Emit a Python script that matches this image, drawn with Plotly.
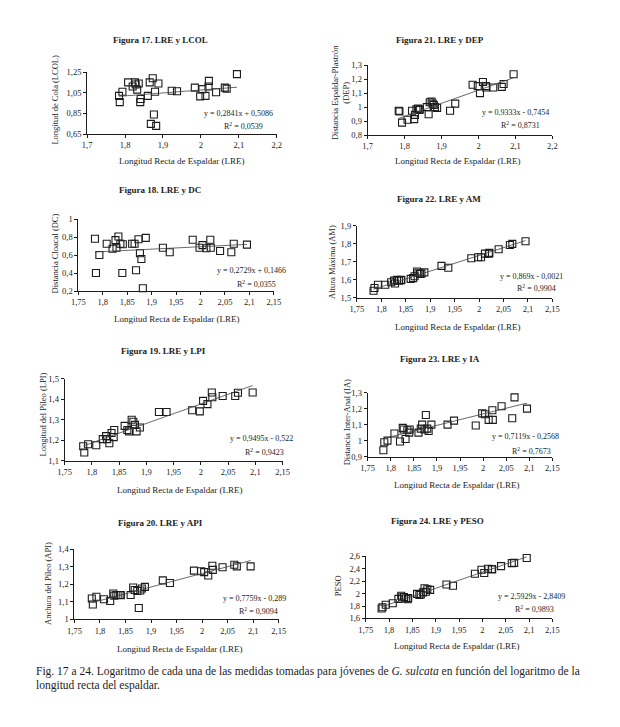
import plotly.graph_objects as go

W, H = 620, 727

# ---- data (log values) ----
lre = [1.784, 1.786, 1.793, 1.808, 1.820, 1.826, 1.828, 1.832, 1.836, 1.840, 1.841,
       1.860, 1.865, 1.868, 1.873, 1.876, 1.879, 1.882, 1.888, 1.923, 1.937, 1.984,
       1.998, 2.004, 2.012, 2.020, 2.021, 2.040, 2.063, 2.068, 2.095]
lcol = [1.02, 0.96, 1.06, 1.15, 1.11, 1.15, 1.13, 1.08, 1.14, 0.96, 0.99,
        1.02, 1.15, 0.75, 1.19, 0.84, 1.06, 0.73, 1.14, 1.07, 1.065, 1.10,
        1.015, 1.085, 1.02, 1.11, 1.165, 1.055, 1.10, 1.09, 1.23]
dep = [0.975, 0.97, 0.89, 0.91, 0.975, 0.915, 0.945, 0.985, 0.99, 0.98, 0.985,
       1.00, 0.95, 1.035, 1.04, 1.025, 1.015, 1.00, 0.995, 0.975, 1.025, 1.16,
       1.15, 1.10, 1.18, 1.15, 1.14, 1.14, 1.145, 1.165, 1.235]
dc = [0.78, 0.40, 0.60, 0.725, 0.67, 0.765, 0.68, 0.805, 0.725, 0.40, 0.72,
      0.725, 0.725, 0.43, 0.775, 0.62, 0.555, 0.23, 0.79, 0.68, 0.63, 0.77,
      0.68, 0.71, 0.675, 0.77, 0.68, 0.645, 0.63, 0.725, 0.715]
am = [1.54, 1.555, 1.573, 1.573, 1.587, 1.596, 1.58, 1.60, 1.595, 1.60, 1.598,
      1.606, 1.61, 1.62, 1.647, 1.64, 1.633, 1.635, 1.642, 1.678, 1.668, 1.72,
      1.726, 1.726, 1.746, 1.746, 1.75, 1.77, 1.794, 1.80, 1.815]
lpi = [1.17, 1.14, 1.18, 1.175, 1.205, 1.22, 1.205, 1.185, 1.235, 1.215, 1.25,
       1.27, 1.25, 1.243, 1.30, 1.29, 1.275, 1.243, 1.262, 1.338, 1.338, 1.346,
       1.341, 1.392, 1.376, 1.433, 1.41, 1.416, 1.416, 1.432, 1.433]
ia = [0.94, 0.99, 1.00, 1.045, 0.995, 1.08, 1.07, 1.01, 1.065, 1.05, 1.07,
      1.05, 1.075, 1.10, 1.07, 1.16, 1.075, 1.06, 1.10, 1.10, 1.125, 1.095,
      1.17, 1.165, 1.13, 1.19, 1.13, 1.215, 1.14, 1.27, 1.20]
api = [1.12, 1.085, 1.13, 1.115, 1.105, 1.148, 1.136, 1.14, 1.14, 1.14, 1.138,
       1.14, 1.182, 1.168, 1.162, 1.065, 1.165, 1.177, 1.186, 1.223, 1.208, 1.279,
       1.275, 1.27, 1.251, 1.307, 1.283, 1.298, 1.312, 1.303, 1.303]
peso = [1.76, 1.78, 1.82, 1.845, 1.915, 1.965, 1.94, 1.945, 1.92, 1.91, 1.93,
        1.995, 1.98, 1.985, 2.02, 2.085, 2.03, 2.07, 2.06, 2.147, 2.126, 2.32,
        2.384, 2.332, 2.40, 2.395, 2.39, 2.442, 2.49, 2.495, 2.574]

slopes = [0.2841, 0.9333, 0.2729, 0.869, 0.9495, 0.7119, 0.7759, 2.5929]
intercepts = [0.5086, -0.7454, 0.1466, -0.0021, -0.522, -0.2568, -0.289, -2.8409]
eq_texts = ["y = 0,2841x + 0,5086", "y = 0,9333x - 0,7454", "y = 0,2729x + 0,1466",
            "y = 0,869x - 0,0021", "y = 0,9495x - 0,522", "y = 0,7119x - 0,2568",
            "y = 0,7759x - 0,289", "y = 2,5929x - 2,8409"]
r2_texts = ["0,0539", "0,8731", "0,0355", "0,9904", "0,9423", "0,7673", "0,9094", "0,9893"]
titles = ["Figura 17. LRE y LCOL", "Figura 21. LRE y DEP", "Figura 18. LRE y DC",
          "Figura 22. LRE y AM", "Figura 19. LRE y LPI", "Figura 23. LRE y IA",
          "Figura 20. LRE y API", "Figura 24. LRE y PESO"]
ytitles = ["Longitud de Cola (LCOL)", "Distancia Espaldar-Plastrón<br>(DEP)",
           "Distancia Cloacal (DC)", "Altura Máxima (AM)", "Longitud del Píleo (LPI)",
           "Distancia Inter-Anal (IA)", "Anchura del Píleo (API)", "PESO"]
series = [lcol, dep, dc, am, lpi, ia, api, peso]
xtitle = "Longitud Recta de Espaldar (LRE)"

x_ticks_a = [1.7, 1.8, 1.9, 2.0, 2.1, 2.2]
x_labels_a = ["1,7", "1,8", "1,9", "2", "2,1", "2,2"]
x_ticks_b = [1.75, 1.8, 1.85, 1.9, 1.95, 2.0, 2.05, 2.1, 2.15]
x_labels_b = ["1,75", "1,8", "1,85", "1,9", "1,95", "2", "2,05", "2,1", "2,15"]
y_ticks = [[0.65, 0.85, 1.05, 1.25], [0.8, 0.9, 1.0, 1.1, 1.2, 1.3],
           [0.2, 0.4, 0.6, 0.8, 1.0], [1.5, 1.6, 1.7, 1.8, 1.9],
           [1.1, 1.2, 1.3, 1.4, 1.5], [0.9, 1.0, 1.1, 1.2, 1.3],
           [1.0, 1.1, 1.2, 1.3, 1.4], [1.6, 1.8, 2.0, 2.2, 2.4, 2.6]]
y_labels = [["0,65", "0,85", "1,05", "1,25"], ["0,8", "0,9", "1", "1,1", "1,2", "1,3"],
            ["0,2", "0,4", "0,6", "0,8", "1"], ["1,5", "1,6", "1,7", "1,8", "1,9"],
            ["1,1", "1,2", "1,3", "1,4", "1,5"], ["0,9", "1", "1,1", "1,2", "1,3"],
            ["1", "1,1", "1,2", "1,3", "1,4"], ["1,6", "1,8", "2", "2,2", "2,4", "2,6"]]

# ---- layout (pixel boxes: x0, x1, ytop, ybottom) ----
boxes = [(82, 276, 68, 131), (369, 558, 61, 132), (73, 273, 217, 290), (358, 558, 224, 297),
         (59, 282, 379, 462), (369, 558, 393, 458), (69, 278, 552, 623), (367, 558, 559, 622)]
title_pos = [(157, 35), (443, 35), (157, 188), (442, 197), (160, 351), (443, 359), (157, 525), (440, 523)]
ytitle_pos = [(49, 96), (341, 89), (49, 252), (333, 260), (37, 415), (348, 423), (42, 587), (339, 589)]
xtitle_pos = [(179, 158), (461, 158), (173, 318), (461, 326), (176, 492), (460, 487), (176, 653), (460, 650)]
eq_pos = [(237, 110), (520, 109), (250, 269), (537, 275), (260, 440), (530, 438), (253, 602), (537, 600)]
r2_pos = [(242, 123), (525, 122), (255, 283), (542, 287), (263, 453), (537, 452), (257, 614), (540, 612)]

INK = "#1c1c1c"
FONT = "Liberation Serif"

fig = go.Figure()
ann = []

def txt(text, pos, size, angle=0, xanchor="center"):
    x, y = pos
    return dict(text=text, x=x / W, y=1 - y / H, xref="paper", yref="paper",
                xanchor=xanchor, yanchor="middle", showarrow=False, textangle=angle,
                font=dict(family=FONT, size=size, color=INK))

for i in range(8):
    n = "" if i == 0 else str(i + 1)
    xa, ya = "x" + n, "y" + n
    ys = series[i]
    fig.add_trace(go.Scatter(x=lre, y=ys, mode="markers", xaxis=xa, yaxis=ya,
                             marker=dict(symbol="square-open", size=7, color=INK,
                                         line=dict(width=1.1, color=INK)),
                             showlegend=False, cliponaxis=False, hoverinfo="skip"))
    xl = [min(lre), max(lre)]
    yl = [slopes[i] * v + intercepts[i] for v in xl]
    fig.add_trace(go.Scatter(x=xl, y=yl, mode="lines", xaxis=xa, yaxis=ya,
                             line=dict(color="#444", width=0.8), showlegend=False,
                             hoverinfo="skip"))
    x0, x1, yt, yb = boxes[i]
    if i < 2:
        xr, xt, xlab = [1.7, 2.2], x_ticks_a, x_labels_a
    else:
        xr, xt, xlab = [1.75, 2.15], x_ticks_b, x_labels_b
    common = dict(showgrid=False, zeroline=False, showline=True, linecolor=INK, linewidth=1,
                  ticks="outside", ticklen=3, tickwidth=1, tickcolor=INK,
                  tickfont=dict(family=FONT, size=8.5, color=INK))
    fig.update_layout(**{
        "xaxis" + n: dict(domain=[x0 / W, x1 / W], range=xr, tickvals=xt, ticktext=xlab,
                          anchor=ya, **common),
        "yaxis" + n: dict(domain=[1 - yb / H, 1 - yt / H], range=[y_ticks[i][0], y_ticks[i][-1]],
                          tickvals=y_ticks[i], ticktext=y_labels[i], anchor=xa, **common),
    })
    ann.append(txt("<b>" + titles[i] + "</b>", title_pos[i], 9))
    ann.append(txt(ytitles[i], ytitle_pos[i], 8.5, angle=-90))
    ann.append(txt(xtitle, xtitle_pos[i], 9))
    ann.append(txt(eq_texts[i], eq_pos[i], 8))
    ann.append(txt("R<sup>2</sup> = " + r2_texts[i], r2_pos[i], 8))

caption1 = ("Fig. 17 a 24. Logaritmo de cada una de las medidas tomadas para jóvenes de "
            "<i>G. sulcata</i> en función del logaritmo de la")
caption2 = "longitud recta del espaldar."
ann.append(txt(caption1, (28, 676), 11.5, xanchor="left"))
ann.append(txt(caption2, (28, 690), 11.5, xanchor="left"))

fig.update_layout(width=W, height=H, margin=dict(l=0, r=0, t=0, b=0),
                  paper_bgcolor="white", plot_bgcolor="white", annotations=ann,
                  hovermode=False)
fig.write_html("out.html", config={"displayModeBar": False, "staticPlot": True},
               post_script="document.body.style.margin='0';")
